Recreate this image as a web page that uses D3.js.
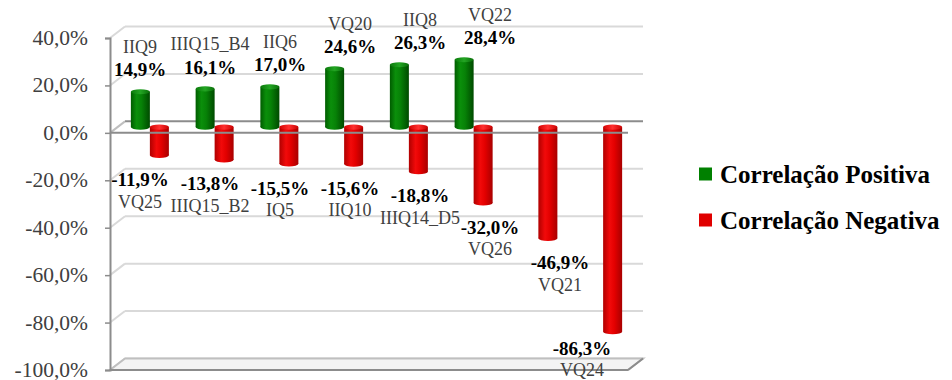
<!DOCTYPE html>
<html>
<head>
<meta charset="utf-8">
<script src="https://cdn.jsdelivr.net/npm/d3@7"></script>
<style>
  html, body { margin: 0; padding: 0; background: #ffffff; }
  svg { display: block; }
</style>
</head>
<body>
<svg id="chart" width="952" height="380"></svg>
<script>
// Correlation values per category (positive and negative series)
const positiveNames = ["IIQ9", "IIIQ15_B4", "IIQ6", "VQ20", "IIQ8", "VQ22"];
const positiveValues = [14.9, 16.1, 17.0, 24.6, 26.3, 28.4];
const negativeNames = ["VQ25", "IIIQ15_B2", "IQ5", "IIQ10", "IIIQ14_D5", "VQ26", "VQ21", "VQ24"];
const negativeValues = [-11.9, -13.8, -15.5, -15.6, -18.8, -32.0, -46.9, -86.3];
const yTicks = [40, 20, 0, -20, -40, -60, -80, -100];
const seriesNames = ["Correlação Positiva", "Correlação Negativa"];

const svg = d3.select("#chart");
const serif = "'Liberation Serif', 'DejaVu Serif', serif";

// Front plane of the plot and the depth offset of the 3-D walls
const plotLeft = 110, plotRight = 628, plotTop = 38, plotBottom = 370;
const depthX = 15, depthY = -11.5;
const midX = depthX / 2, midY = depthY / 2;

const y = d3.scaleLinear().domain([-100, 40]).range([plotBottom, plotTop]);
const categories = d3.range(negativeValues.length);
const x = d3.scaleBand().domain(categories).range([plotLeft, plotRight])
  .paddingInner(0.413).paddingOuter(0.2065);
const xSeries = d3.scaleBand().domain(["pos", "neg"]).range([0, x.bandwidth()]);
const xLabel = d3.scaleBand().domain(categories).range([105, 665]);

// Percent with decimal comma and a plain hyphen for negatives
const fmt = v => d3.format(".1f")(v).replace(".", ",").replace("\u2212", "-") + "%";

// Gradients for the cylinders
const defs = svg.append("defs");
function cylGradient(id, stops) {
  const g = defs.append("linearGradient").attr("id", id)
    .attr("x1", "0%").attr("x2", "100%").attr("y1", "0%").attr("y2", "0%");
  stops.forEach(([o, c]) => g.append("stop").attr("offset", o).attr("stop-color", c));
}
cylGradient("gPos", [["0%", "#005c00"], ["30%", "#0b8f0b"], ["55%", "#078207"], ["100%", "#004a00"]]);
cylGradient("gNeg", [["0%", "#b00000"], ["35%", "#f20a0a"], ["60%", "#e30000"], ["100%", "#a80000"]]);
cylGradient("gPosTop", [["0%", "#0a7a0a"], ["50%", "#23a523"], ["100%", "#0a6e0a"]]);
cylGradient("gNegTop", [["0%", "#d40000"], ["50%", "#ff3030"], ["100%", "#c80000"]]);

// Back wall gridlines and side-wall diagonals
const grid = svg.append("g");
yTicks.forEach(t => {
  if (t === 0) return;
  grid.append("line")
    .attr("x1", plotLeft + depthX).attr("x2", plotRight + depthX)
    .attr("y1", y(t) + depthY).attr("y2", y(t) + depthY)
    .attr("stroke", "#d9d9d9").attr("stroke-width", 2);
  grid.append("line")
    .attr("x1", plotLeft).attr("x2", plotLeft + depthX)
    .attr("y1", y(t)).attr("y2", y(t) + depthY)
    .attr("stroke", "#d9d9d9").attr("stroke-width", 2);
});

// Floor outline
svg.append("path")
  .attr("d", `M${plotLeft},${plotBottom} L${plotRight},${plotBottom} L${plotRight + depthX},${plotBottom + depthY} L${plotLeft + depthX},${plotBottom + depthY} Z`)
  .attr("fill", "#f4f4f4").attr("stroke", "#bfbfbf").attr("stroke-width", 2);
svg.append("line")
  .attr("x1", plotLeft).attr("x2", plotRight).attr("y1", plotBottom).attr("y2", plotBottom)
  .attr("stroke", "#8c8c8c").attr("stroke-width", 2);
svg.append("line")
  .attr("x1", plotRight).attr("x2", plotRight + depthX).attr("y1", plotBottom).attr("y2", plotBottom + depthY)
  .attr("stroke", "#8c8c8c").attr("stroke-width", 2);

// Zero plane: back line first, bars, then front line
svg.append("line")
  .attr("x1", plotLeft + depthX).attr("x2", plotRight + depthX)
  .attr("y1", y(0) + depthY).attr("y2", y(0) + depthY)
  .attr("stroke", "#8c8c8c").attr("stroke-width", 2);
svg.append("line")
  .attr("x1", plotLeft).attr("x2", plotLeft + depthX)
  .attr("y1", y(0)).attr("y2", y(0) + depthY)
  .attr("stroke", "#bfbfbf").attr("stroke-width", 2);

// Vertical axis with ticks and labels
const axis = svg.append("g").attr("transform", `translate(${plotLeft},0)`)
  .call(d3.axisLeft(y).tickValues(yTicks).tickSize(5).tickPadding(17).tickFormat(fmt));
axis.attr("font-family", serif);
axis.select(".domain").attr("stroke", "#8c8c8c").attr("stroke-width", 2);
axis.selectAll(".tick line").attr("stroke", "#8c8c8c").attr("stroke-width", 1.5);
axis.selectAll(".tick text")
  .attr("font-family", serif).attr("font-size", 21.5).attr("fill", "#404040")
  .attr("dy", "0.3em");

// Cylinder bars
const ry = 2.6;
function cylinder(g, cx, w, v0, v1, fill, topFill) {
  const yTop = Math.min(y(v0), y(v1)) + midY;
  const yBot = Math.max(y(v0), y(v1)) + midY;
  g.append("ellipse").attr("cx", cx).attr("cy", yBot).attr("rx", w / 2).attr("ry", ry)
    .attr("fill", `url(#${fill})`);
  g.append("rect").attr("x", cx - w / 2).attr("y", yTop).attr("width", w)
    .attr("height", yBot - yTop).attr("fill", `url(#${fill})`);
  g.append("ellipse").attr("cx", cx).attr("cy", yTop).attr("rx", w / 2).attr("ry", ry)
    .attr("fill", `url(#${topFill})`);
}
const bars = svg.append("g");
categories.forEach(i => {
  const w = xSeries.bandwidth();
  if (i < positiveValues.length) {
    const cx = x(i) + xSeries("pos") + w / 2 + midX;
    cylinder(bars, cx, w, 0, positiveValues[i], "gPos", "gPosTop");
  }
  const cxn = x(i) + xSeries("neg") + w / 2 + midX;
  cylinder(bars, cxn, w, negativeValues[i], 0, "gNeg", "gNegTop");
});

// Front zero line over the bars
svg.append("line")
  .attr("x1", plotLeft).attr("x2", plotRight).attr("y1", y(0)).attr("y2", y(0))
  .attr("stroke", "#8c8c8c").attr("stroke-width", 2);

// Data labels: name and value
const labels = svg.append("g").attr("font-family", serif).attr("text-anchor", "middle");
const labelX = i => Math.min(xLabel(i) + xLabel.bandwidth() / 2, 582);
positiveValues.forEach((v, i) => {
  const vy = y(v) + midY - 22;
  labels.append("text").attr("x", labelX(i)).attr("y", vy).attr("dy", "0.35em")
    .attr("font-size", 19).attr("font-weight", "bold").attr("fill", "#000").text(fmt(v));
  labels.append("text").attr("x", labelX(i)).attr("y", vy - 23).attr("dy", "0.35em")
    .attr("font-size", 18).attr("fill", "#404040").text(positiveNames[i]);
});
negativeValues.forEach((v, i) => {
  const vy = Math.min(y(v) + midY + 24, 348);
  labels.append("text").attr("x", labelX(i)).attr("y", vy).attr("dy", "0.35em")
    .attr("font-size", 19).attr("font-weight", "bold").attr("fill", "#000").text(fmt(v));
  labels.append("text").attr("x", labelX(i)).attr("y", vy + 22).attr("dy", "0.35em")
    .attr("font-size", 18).attr("fill", "#404040").text(negativeNames[i]);
});

// Legend
const legend = svg.append("g").attr("font-family", serif);
const legendColors = ["#008000", "#e00000"];
seriesNames.forEach((name, k) => {
  const cy = 174 + k * 46;
  legend.append("rect").attr("x", 699).attr("y", cy - 6.5).attr("width", 13).attr("height", 13)
    .attr("fill", legendColors[k]);
  legend.append("text").attr("x", 720).attr("y", cy).attr("dy", "0.35em")
    .attr("font-size", 25).attr("font-weight", "bold").attr("fill", "#000").text(name);
});
</script>
</body>
</html>
